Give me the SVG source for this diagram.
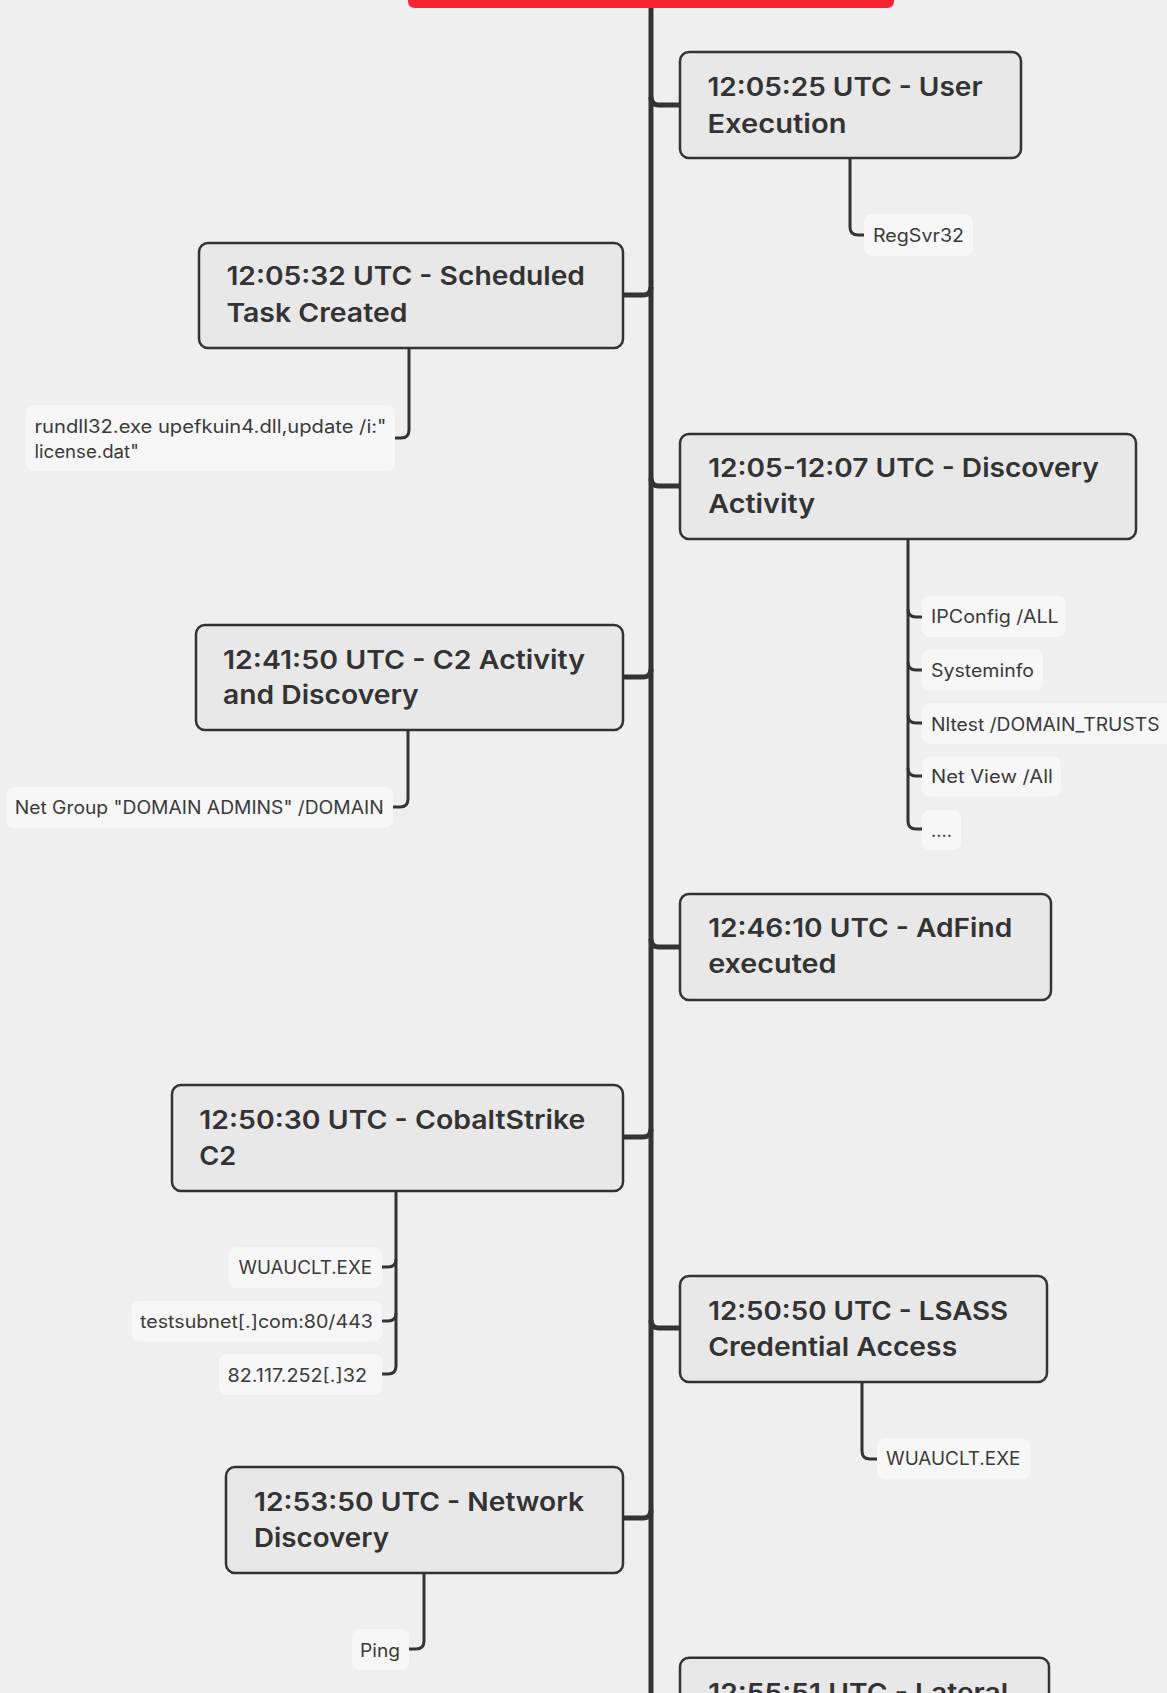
<svg xmlns="http://www.w3.org/2000/svg" width="1167" height="1693" viewBox="0 0 1167 1693">
<style>
.bg{fill:#efefef}
.node rect{fill:#e8e8e8;stroke:#333;stroke-width:2.5}
.node text{font-family:Inter,"Open Sans",sans-serif;font-weight:600;font-size:26px;fill:#333}
.lbl rect{fill:#f7f7f7}
.lbl text{font-family:Inter,"Open Sans",sans-serif;font-weight:400;font-size:18px;fill:#3a3a3a}
.spine{fill:none;stroke:#333;stroke-width:5}
.br{fill:none;stroke:#333;stroke-width:5}
.sub{fill:none;stroke:#333;stroke-width:3}
</style>
<rect class="bg" x="0" y="0" width="1167" height="1693"/>
<g id="central"><path d="M408 -10 H894 V1 Q894 8 887 8 H415 Q408 8 408 1 Z" fill="#fa2130"/></g>
<g id="connectors">
<path class="spine" d="M651 8 V1693"/>
<path class="br" d="M651 97 Q651 105 659 105 H680"/>
<path class="br" d="M651 287 Q651 295 643 295 H623"/>
<path class="br" d="M651 478 Q651 486 659 486 H680"/>
<path class="br" d="M651 669 Q651 677 643 677 H623"/>
<path class="br" d="M651 939 Q651 947 659 947 H680"/>
<path class="br" d="M651 1129 Q651 1137 643 1137 H623"/>
<path class="br" d="M651 1320 Q651 1328 659 1328 H680"/>
<path class="br" d="M651 1510 Q651 1518 643 1518 H623"/>
<path class="sub" d="M850 158 V227 Q850 235 858 235 H864"/>
<path class="sub" d="M409 348 V430 Q409 438 401 438 H395"/>
<path class="sub" d="M908 539 V821 Q908 829 916 829 H922"/>
<path class="sub" d="M908 609 Q908 617 916 617 H922"/>
<path class="sub" d="M908 662 Q908 670 916 670 H922"/>
<path class="sub" d="M908 715 Q908 723 916 723 H922"/>
<path class="sub" d="M908 768 Q908 776 916 776 H922"/>
<path class="sub" d="M408 730 V799 Q408 807 400 807 H393"/>
<path class="sub" d="M396 1191 V1366 Q396 1374 388 1374 H382"/>
<path class="sub" d="M396 1259 Q396 1267 388 1267 H382"/>
<path class="sub" d="M396 1313 Q396 1321 388 1321 H382"/>
<path class="sub" d="M862 1382 V1451 Q862 1459 870 1459 H877"/>
<path class="sub" d="M424 1573 V1641 Q424 1649 416 1649 H409"/>
</g>
<g id="n1" class="node"><rect x="680" y="52" width="341" height="106" rx="9"/><text x="707.5" y="96" textLength="275" lengthAdjust="spacingAndGlyphs">12:05:25 UTC - User</text><text x="707.5" y="132.7" textLength="139" lengthAdjust="spacingAndGlyphs">Execution</text></g>
<g id="n2" class="node"><rect x="199" y="243" width="424" height="105" rx="9"/><text x="226.4" y="285" textLength="358.6" lengthAdjust="spacingAndGlyphs">12:05:32 UTC - Scheduled</text><text x="226.4" y="321.7" textLength="181" lengthAdjust="spacingAndGlyphs">Task Created</text></g>
<g id="n3" class="node"><rect x="680" y="434" width="456" height="105" rx="9"/><text x="708.2" y="477.3" textLength="390.5" lengthAdjust="spacingAndGlyphs">12:05-12:07 UTC - Discovery</text><text x="708.2" y="513.3" textLength="107" lengthAdjust="spacingAndGlyphs">Activity</text></g>
<g id="n4" class="node"><rect x="196" y="625" width="427" height="105" rx="9"/><text x="223" y="669.3" textLength="362" lengthAdjust="spacingAndGlyphs">12:41:50 UTC - C2 Activity</text><text x="223" y="704" textLength="195.7" lengthAdjust="spacingAndGlyphs">and Discovery</text></g>
<g id="n5" class="node"><rect x="680" y="894" width="371" height="106" rx="9"/><text x="708.2" y="937.3" textLength="304" lengthAdjust="spacingAndGlyphs">12:46:10 UTC - AdFind</text><text x="708.2" y="973.3" textLength="128.4" lengthAdjust="spacingAndGlyphs">executed</text></g>
<g id="n6" class="node"><rect x="172" y="1085" width="451" height="106" rx="9"/><text x="199.3" y="1129.3" textLength="386" lengthAdjust="spacingAndGlyphs">12:50:30 UTC - CobaltStrike</text><text x="199.3" y="1165" textLength="37" lengthAdjust="spacingAndGlyphs">C2</text></g>
<g id="n7" class="node"><rect x="680" y="1276" width="367" height="106" rx="9"/><text x="708.2" y="1320" textLength="300" lengthAdjust="spacingAndGlyphs">12:50:50 UTC - LSASS</text><text x="708.2" y="1356" textLength="249" lengthAdjust="spacingAndGlyphs">Credential Access</text></g>
<g id="n8" class="node"><rect x="226" y="1467" width="397" height="106" rx="9"/><text x="254" y="1510.7" textLength="330" lengthAdjust="spacingAndGlyphs">12:53:50 UTC - Network</text><text x="254" y="1546.7" textLength="135" lengthAdjust="spacingAndGlyphs">Discovery</text></g>
<g id="n9" class="node"><rect x="680" y="1657.7" width="369" height="106" rx="9"/><text x="708.2" y="1701.5" textLength="300" lengthAdjust="spacingAndGlyphs">12:55:51 UTC - Lateral</text></g>
<g id="l1" class="lbl"><rect x="864" y="214" width="109" height="42" rx="8"/><text x="873" y="242" textLength="91" lengthAdjust="spacingAndGlyphs">RegSvr32</text></g>
<g id="l2" class="lbl"><rect x="26" y="405" width="369" height="66" rx="8"/><text x="34.5" y="433.3" font-size="17" textLength="352" lengthAdjust="spacingAndGlyphs">rundll32.exe upefkuin4.dll,update /i:"</text><text x="34.5" y="457.7" font-size="17" textLength="104.4" lengthAdjust="spacingAndGlyphs">license.dat"</text></g>
<g id="l3" class="lbl"><rect x="922" y="596" width="144" height="41" rx="8"/><text x="931" y="623.3" textLength="127.7" lengthAdjust="spacingAndGlyphs">IPConfig /ALL</text></g>
<g id="l4" class="lbl"><rect x="922" y="649.5" width="121" height="41" rx="8"/><text x="931" y="676.7" textLength="103" lengthAdjust="spacingAndGlyphs">Systeminfo</text></g>
<g id="l5" class="lbl"><rect x="922" y="703" width="250" height="41" rx="8"/><text x="931" y="730.7" textLength="228.5" lengthAdjust="spacingAndGlyphs">Nltest /DOMAIN_TRUSTS</text></g>
<g id="l6" class="lbl"><rect x="922" y="756.5" width="139" height="40" rx="8"/><text x="931" y="783.3" textLength="122" lengthAdjust="spacingAndGlyphs">Net View /All</text></g>
<g id="l7" class="lbl"><rect x="922" y="810" width="39" height="40" rx="8"/><text x="931" y="836.7" textLength="21" lengthAdjust="spacingAndGlyphs">....</text></g>
<g id="l8" class="lbl"><rect x="6" y="787" width="387" height="41" rx="8"/><text x="14.7" y="814" textLength="369" lengthAdjust="spacingAndGlyphs">Net Group "DOMAIN ADMINS" /DOMAIN</text></g>
<g id="l9" class="lbl"><rect x="228.5" y="1247" width="153.5" height="41" rx="8"/><text x="238.5" y="1274" textLength="133.5" lengthAdjust="spacingAndGlyphs">WUAUCLT.EXE</text></g>
<g id="l10" class="lbl"><rect x="131.4" y="1300.7" width="250.6" height="41" rx="8"/><text x="140" y="1328.3" textLength="233" lengthAdjust="spacingAndGlyphs">testsubnet[.]com:80/443</text></g>
<g id="l11" class="lbl"><rect x="219" y="1354" width="163" height="41" rx="8"/><text x="227.5" y="1381.7" textLength="139.6" lengthAdjust="spacingAndGlyphs">82.117.252[.]32</text></g>
<g id="l12" class="lbl"><rect x="877" y="1438.5" width="153" height="41" rx="8"/><text x="886" y="1465" textLength="134.4" lengthAdjust="spacingAndGlyphs">WUAUCLT.EXE</text></g>
<g id="l13" class="lbl"><rect x="352" y="1629" width="57" height="41" rx="8"/><text x="360" y="1656.7" textLength="40" lengthAdjust="spacingAndGlyphs">Ping</text></g>
</svg>
